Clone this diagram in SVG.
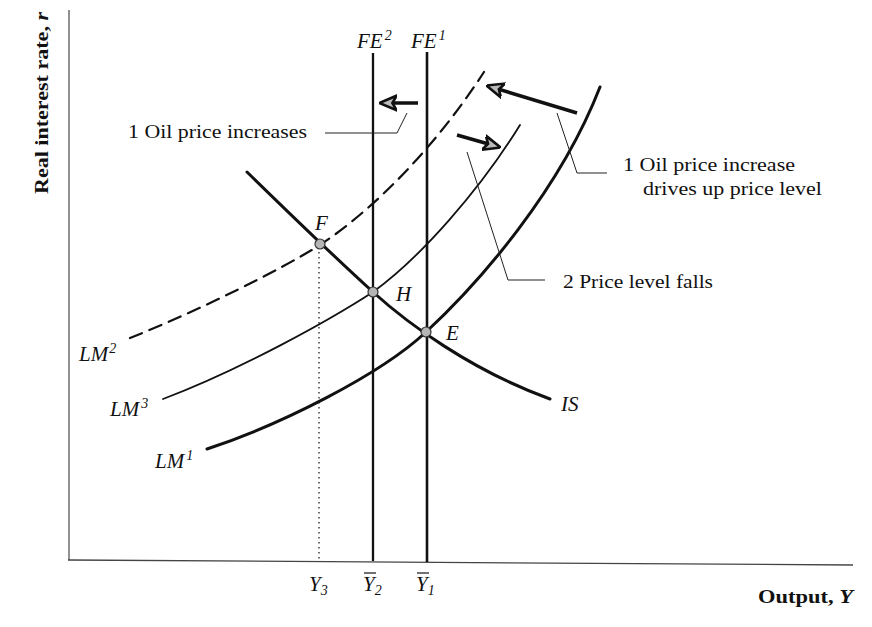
<svg xmlns="http://www.w3.org/2000/svg" width="872" height="627" viewBox="0 0 872 627">
<style>
.t{font-family:"Liberation Serif","Times New Roman",serif;font-size:19px;fill:#111}
.i{font-family:"Liberation Serif","Times New Roman",serif;font-style:italic;font-size:21px;fill:#111}
.b{font-family:"Liberation Serif","Times New Roman",serif;font-weight:bold;font-size:18px;fill:#111}
.sup{font-size:14px}
.crv{fill:none;stroke:#111;stroke-linecap:round}
.lead{fill:none;stroke:#222;stroke-width:1}
.pt{fill:#b5b5b5;stroke:#333;stroke-width:1.2}
.arr{fill:none;stroke:#111;stroke-width:3.5}
</style>
<defs>
<marker id="ah" viewBox="0 0 10 10" refX="9" refY="5" markerWidth="5" markerHeight="5" orient="auto" markerUnits="strokeWidth">
<polygon points="0,0.8 10,5 0,9.2 2.5,5" fill="#bbb" stroke="#111" stroke-width="1.5" stroke-linejoin="miter"/>
</marker>
</defs>
<rect width="872" height="627" fill="#fff"/>
<g id="axes">
<line x1="69" y1="10" x2="69" y2="560" stroke="#555" stroke-width="1.3"/>
<line x1="68" y1="560" x2="853" y2="565" stroke="#444" stroke-width="1.3"/>
<text class="b" transform="translate(48,194) rotate(-90)" textLength="182" lengthAdjust="spacingAndGlyphs">Real interest rate, <tspan font-style="italic">r</tspan></text>
<text class="b" x="758" y="603" textLength="95" lengthAdjust="spacingAndGlyphs">Output, <tspan font-style="italic">Y</tspan></text>
</g>
<g id="connectors">
<line x1="319" y1="247" x2="319" y2="560" stroke="#222" stroke-width="1.3" stroke-dasharray="1.5,3.5"/>
<line id="FE2" x1="373" y1="53" x2="373" y2="561" stroke="#111" stroke-width="2.3"/>
<line id="FE1" x1="427" y1="52" x2="427" y2="562" stroke="#111" stroke-width="2.6"/>
<path id="LM2" class="crv" stroke-width="2.2" stroke-dasharray="13,8" d="M130,338 C200,310 280,270 320,245 C380,205 440,140 484,72"/>
<path id="LM3" class="crv" stroke-width="1.8" d="M163,399 C240,370 330,320 373,292 C420,258 480,190 520,125"/>
<path id="LM1" class="crv" stroke-width="3" d="M207,449 C280,425 380,375 426,332 C480,282 560,190 600,87"/>
<path id="IS" class="crv" stroke-width="3" d="M247,172 C290,214 340,262 373,292 S470,370 550,399"/>
<line class="arr" x1="418" y1="103" x2="381" y2="103" marker-end="url(#ah)"/>
<line class="arr" x1="577" y1="113" x2="488" y2="86" marker-end="url(#ah)"/>
<line class="arr" x1="457" y1="135" x2="499" y2="147" marker-end="url(#ah)"/>
<polyline class="lead" points="325,133 397,133 407,113"/>
<polyline class="lead" points="557,113 577,173 607,173"/>
<polyline class="lead" points="467,152 508,280 545,280"/>
</g>
<g id="point-F"><circle class="pt" cx="320" cy="244" r="5"/><text class="i" x="315" y="230" font-size="18">F</text></g>
<g id="point-H"><circle class="pt" cx="373" cy="292" r="5"/><text class="i" x="396" y="301" font-size="19">H</text></g>
<g id="point-E"><circle class="pt" cx="426" cy="332" r="5"/><text class="i" x="446" y="340" font-size="19">E</text></g>
<g id="label-FE2"><text class="i" x="357" y="48">FE<tspan class="sup" dx="2" dy="-8">2</tspan></text></g>
<g id="label-FE1"><text class="i" x="411" y="48">FE<tspan class="sup" dx="2" dy="-8">1</tspan></text></g>
<g id="label-LM2"><text class="i" x="79" y="361">LM<tspan class="sup" dx="1" dy="-8">2</tspan></text></g>
<g id="label-LM3"><text class="i" x="110" y="416">LM<tspan class="sup" dx="2" dy="-8">3</tspan></text></g>
<g id="label-LM1"><text class="i" x="155" y="468">LM<tspan class="sup" dx="2" dy="-8">1</tspan></text></g>
<g id="label-IS"><text class="i" x="561" y="411">IS</text></g>
<g id="label-Y3"><text class="i" x="309" y="591" font-size="18">Y<tspan class="sup" dy="4">3</tspan></text></g>
<g id="label-Y2"><line x1="364" y1="573" x2="376" y2="573" stroke="#111" stroke-width="1.2"/><text class="i" x="363" y="591" font-size="18">Y<tspan class="sup" dy="4">2</tspan></text></g>
<g id="label-Y1"><line x1="417" y1="573" x2="429" y2="573" stroke="#111" stroke-width="1.2"/><text class="i" x="416" y="591" font-size="18">Y<tspan class="sup" dy="4">1</tspan></text></g>
<g id="note-oil-left"><text class="t" x="128" y="138" textLength="179" lengthAdjust="spacingAndGlyphs">1  Oil price increases</text></g>
<g id="note-oil-right"><text class="t" x="623" y="171" textLength="172" lengthAdjust="spacingAndGlyphs">1  Oil price increase</text><text class="t" x="643" y="195" textLength="179" lengthAdjust="spacingAndGlyphs">drives up price level</text></g>
<g id="note-price-falls"><text class="t" x="563" y="288" textLength="150" lengthAdjust="spacingAndGlyphs">2  Price level falls</text></g>
</svg>
